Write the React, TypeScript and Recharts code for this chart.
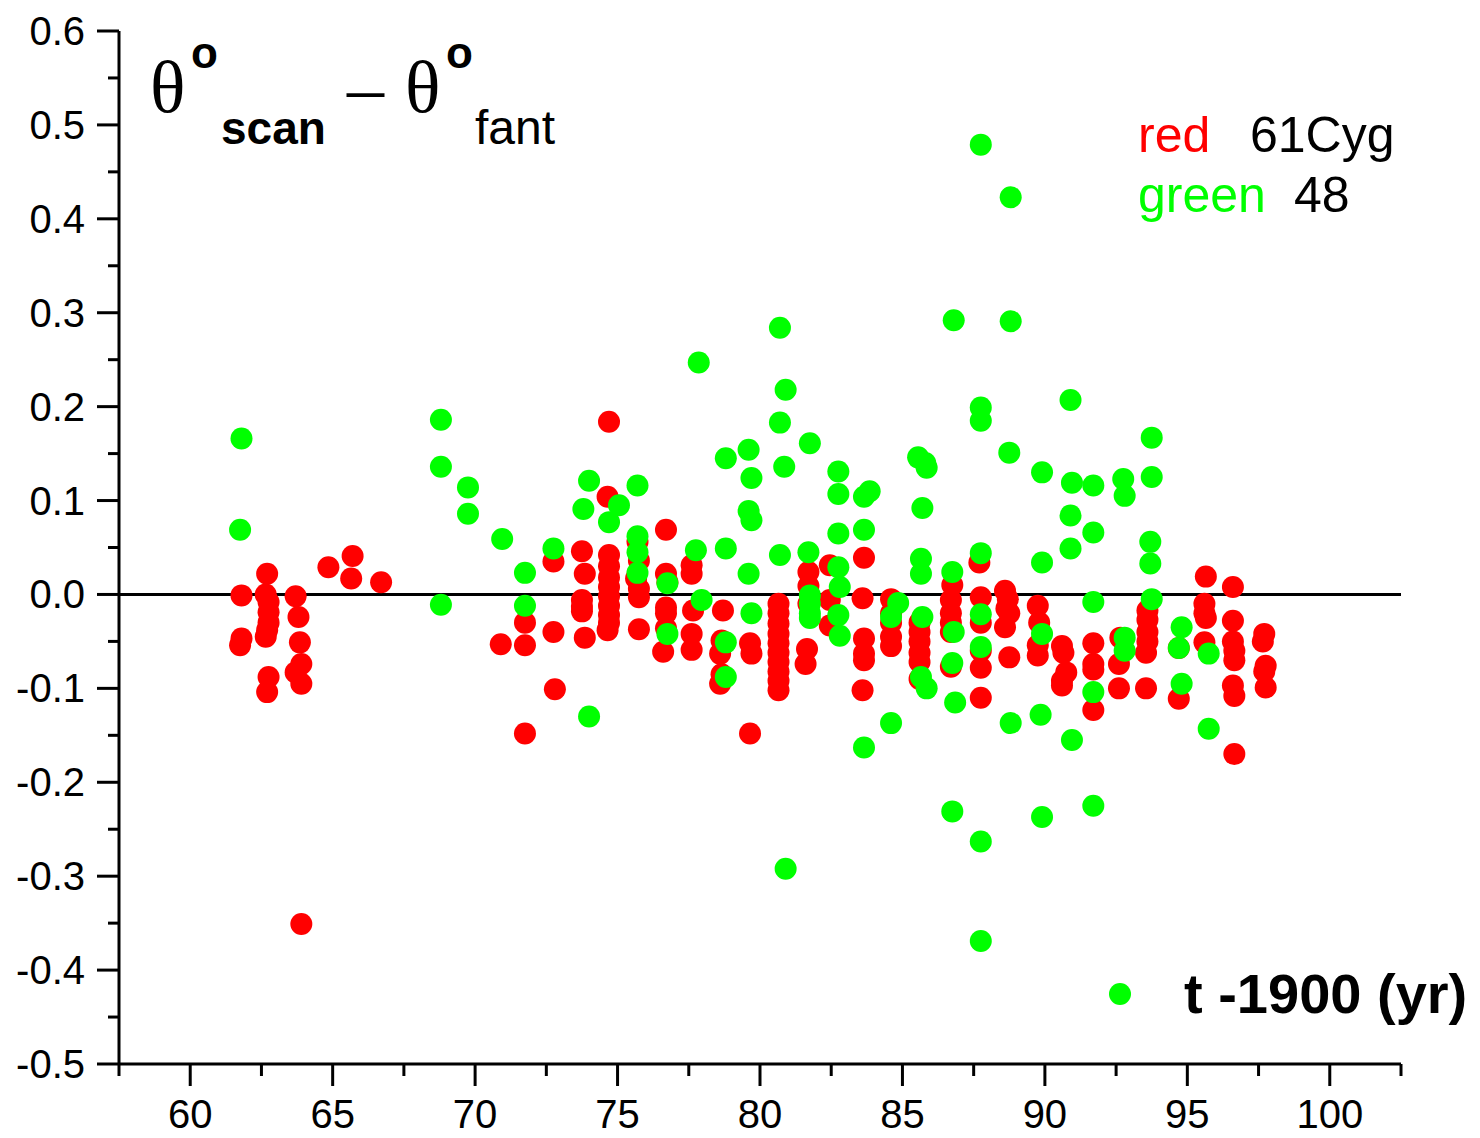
import React from "react";
import { ScatterChart, Scatter, XAxis, YAxis, ReferenceLine } from "recharts";

// [t - 1900, theta_scan - theta_fant] for 61 Cyg (red)
const red61Cyg: [number, number][] = [
  [61.8, -0.001], [61.8, -0.047], [61.75, -0.054],
  [62.7, 0.022], [62.65, 0.0], [62.75, -0.008], [62.75, -0.019], [62.75, -0.03], [62.7, -0.038], [62.65, -0.045], [62.75, -0.088], [62.7, -0.104],
  [63.7, -0.002], [63.8, -0.024], [63.85, -0.051], [63.9, -0.074], [63.7, -0.083], [63.9, -0.095], [63.9, -0.351],
  [64.85, 0.029], [65.7, 0.041], [65.65, 0.017], [66.7, 0.013],
  [70.9, -0.053], [71.75, -0.03], [71.75, -0.054], [71.75, -0.148],
  [72.75, 0.035], [72.75, -0.04], [72.8, -0.101],
  [73.75, 0.046], [73.85, 0.022], [73.75, -0.006], [73.75, -0.013], [73.75, -0.018], [73.85, -0.046],
  [74.7, 0.184], [74.65, 0.104], [74.7, 0.042], [74.7, 0.03], [74.7, 0.018], [74.7, 0.008], [74.7, -0.002], [74.7, -0.012], [74.7, -0.022], [74.7, -0.03], [74.65, -0.038],
  [75.7, 0.056], [75.75, 0.036], [75.65, 0.017], [75.75, 0.006], [75.75, -0.003], [75.75, -0.037],
  [76.7, 0.069], [76.7, 0.022], [76.75, 0.013], [76.7, -0.014], [76.7, -0.02], [76.7, -0.036], [76.6, -0.061],
  [77.6, 0.031], [77.6, 0.022], [77.65, -0.017], [77.6, -0.042], [77.6, -0.059],
  [78.7, -0.017], [78.65, -0.049], [78.6, -0.063], [78.65, -0.085], [78.6, -0.095],
  [79.65, -0.052], [79.7, -0.063], [79.65, -0.148],
  [80.65, -0.01], [80.65, -0.02], [80.65, -0.031], [80.65, -0.042], [80.65, -0.052], [80.65, -0.062], [80.65, -0.072], [80.65, -0.082], [80.65, -0.092], [80.65, -0.102],
  [81.7, 0.024], [81.7, 0.009], [81.7, -0.01], [81.65, -0.058], [81.6, -0.074],
  [82.45, 0.031], [82.45, -0.006], [82.45, -0.033],
  [83.65, 0.039], [83.6, -0.004], [83.65, -0.047], [83.65, -0.063], [83.65, -0.07], [83.6, -0.102],
  [84.6, -0.005], [84.6, -0.02], [84.6, -0.03], [84.6, -0.045], [84.6, -0.055],
  [85.6, -0.03], [85.6, -0.04], [85.6, -0.05], [85.6, -0.062], [85.6, -0.072], [85.6, -0.09],
  [86.75, 0.01], [86.7, -0.006], [86.7, -0.02], [86.7, -0.03], [86.7, -0.04], [86.7, -0.077],
  [87.7, 0.034], [87.75, -0.003], [87.75, -0.03], [87.75, -0.06], [87.75, -0.078], [87.75, -0.11],
  [88.6, 0.004], [88.7, -0.005], [88.65, -0.015], [88.75, -0.02], [88.6, -0.035], [88.75, -0.067],
  [89.75, -0.012], [89.8, -0.03], [89.75, -0.054], [89.75, -0.065],
  [90.6, -0.055], [90.65, -0.062], [90.75, -0.083], [90.6, -0.092], [90.6, -0.097],
  [91.7, -0.052], [91.7, -0.074], [91.7, -0.08], [91.7, -0.123],
  [92.65, -0.046], [92.6, -0.074], [92.6, -0.1],
  [93.6, -0.017], [93.6, -0.027], [93.6, -0.04], [93.6, -0.05], [93.55, -0.062], [93.55, -0.1],
  [94.7, -0.057], [94.7, -0.111],
  [95.65, 0.019], [95.6, -0.01], [95.6, -0.02], [95.65, -0.025], [95.6, -0.051],
  [96.6, 0.008], [96.6, -0.028], [96.6, -0.05], [96.65, -0.06], [96.65, -0.07], [96.6, -0.097], [96.65, -0.108], [96.65, -0.17],
  [97.7, -0.042], [97.65, -0.05], [97.75, -0.076], [97.7, -0.082], [97.75, -0.099],
];

// same for star 48 (green)
const green48: [number, number][] = [
  [61.8, 0.166], [61.75, 0.069],
  [68.8, 0.186], [68.8, 0.136], [68.8, -0.011],
  [69.75, 0.114], [69.75, 0.086],
  [70.95, 0.059],
  [71.75, 0.023], [71.75, -0.012],
  [72.75, 0.049],
  [73.8, 0.091],
  [74.0, 0.121], [74.0, -0.13],
  [74.7, 0.077], [75.05, 0.095],
  [75.7, 0.116], [75.7, 0.062], [75.7, 0.045], [75.7, 0.023],
  [76.75, 0.012], [76.75, -0.042],
  [77.85, 0.247], [77.75, 0.047], [77.95, -0.006],
  [78.8, 0.145], [78.8, 0.049], [78.8, -0.051], [78.8, -0.088],
  [79.6, 0.154], [79.7, 0.124], [79.6, 0.089], [79.7, 0.079], [79.6, 0.022], [79.7, -0.02],
  [80.7, 0.284], [80.7, 0.183], [80.7, 0.042],
  [80.9, 0.218], [80.85, 0.136], [80.9, -0.292],
  [81.75, 0.161], [81.7, 0.045], [81.75, -0.001], [81.75, -0.01], [81.75, -0.02], [81.75, -0.025],
  [82.75, 0.131], [82.75, 0.107], [82.75, 0.065], [82.75, 0.029], [82.8, 0.008], [82.75, -0.022], [82.8, -0.044],
  [83.65, 0.104], [83.85, 0.11], [83.65, 0.069], [83.65, -0.163],
  [84.85, -0.009], [84.6, -0.024], [84.6, -0.137],
  [85.55, 0.146], [85.85, 0.135], [85.8, 0.14], [85.7, 0.092], [85.65, 0.038], [85.65, 0.022], [85.7, -0.024], [85.65, -0.088], [85.85, -0.1],
  [86.8, 0.292], [86.75, 0.024], [86.8, -0.04], [86.75, -0.073], [86.85, -0.115], [86.75, -0.231],
  [87.75, 0.479], [87.75, 0.199], [87.75, 0.185], [87.75, 0.044], [87.75, -0.021], [87.75, -0.056], [87.75, -0.263], [87.75, -0.369],
  [88.8, 0.423], [88.8, 0.291], [88.75, 0.151], [88.8, -0.137],
  [89.9, 0.13], [89.9, 0.034], [89.9, -0.042], [89.85, -0.128], [89.9, -0.237],
  [90.9, 0.207], [90.95, 0.119], [90.9, 0.084], [90.9, 0.049], [90.95, -0.155],
  [91.7, 0.116], [91.7, 0.066], [91.7, -0.008], [91.7, -0.104], [91.7, -0.225],
  [92.75, 0.123], [92.8, 0.105], [92.8, -0.046], [92.8, -0.06],
  [93.75, 0.167], [93.75, 0.125], [93.7, 0.056], [93.7, 0.033], [93.75, -0.005],
  [94.8, -0.035], [94.7, -0.057], [94.8, -0.095],
  [95.75, -0.063], [95.75, -0.143],
];

const xTicks = [57.5, 60, 62.5, 65, 67.5, 70, 72.5, 75, 77.5, 80, 82.5, 85, 87.5, 90, 92.5, 95, 97.5, 100, 102.5];
const xLabels = [60, 65, 70, 75, 80, 85, 90, 95, 100];
const yTicks = [-0.5, -0.45, -0.4, -0.35, -0.3, -0.25, -0.2, -0.15, -0.1, -0.05, 0, 0.05, 0.1, 0.15, 0.2, 0.25, 0.3, 0.35, 0.4, 0.45, 0.5, 0.55, 0.6];
const yLabels = [-0.5, -0.4, -0.3, -0.2, -0.1, 0, 0.1, 0.2, 0.3, 0.4, 0.5, 0.6];

const RED = "#ff0000";
const GREEN = "#00ff00";
const SANS = "'Liberation Sans', Arial, sans-serif";
const SERIF = "'Liberation Serif', 'Times New Roman', serif";

const toPoints = (arr: [number, number][]) => arr.map(([x, y]) => ({ x, y }));

const isLabelled = (list: number[], v: number) => list.some((l) => Math.abs(l - v) < 1e-6);

const XTick = (props: any) => {
  const { x, y, payload } = props;
  const major = isLabelled(xLabels, payload.value);
  return (
    <g>
      <line x1={x} x2={x} y1={y} y2={y + (major ? 22 : 12)} stroke="#000" strokeWidth={3} />
      {major && (
        <text x={x} y={y + 64} textAnchor="middle" fontSize={40} fontFamily={SANS} fill="#000">
          {payload.value}
        </text>
      )}
    </g>
  );
};

const YTick = (props: any) => {
  const { x, y, payload } = props;
  const major = isLabelled(yLabels, payload.value);
  return (
    <g>
      <line x1={x - (major ? 22 : 11)} x2={x} y1={y} y2={y} stroke="#000" strokeWidth={3} />
      {major && (
        <text x={x - 34} y={y + 14} textAnchor="end" fontSize={40} fontFamily={SANS} fill="#000">
          {payload.value.toFixed(1)}
        </text>
      )}
    </g>
  );
};

const dot = (color: string) => (p: any) => <circle cx={p.cx} cy={p.cy} r={11} fill={color} />;

export default function App() {
  return (
    <div style={{ position: "absolute", left: 0, top: 0, width: 1480, height: 1138, background: "#fff" }}>
      <ScatterChart width={1480} height={1138} margin={{ top: 31, right: 79, left: 0, bottom: 0 }}>
        <XAxis
          type="number"
          dataKey="x"
          domain={[57.5, 102.5]}
          ticks={xTicks}
          interval={0}
          tickSize={0}
          tickMargin={0}
          tick={<XTick />}
          height={74}
          axisLine={{ stroke: "#000", strokeWidth: 3 }}
          tickLine={false}
          allowDataOverflow
        />
        <YAxis
          type="number"
          dataKey="y"
          domain={[-0.5, 0.6]}
          ticks={yTicks}
          interval={0}
          tickSize={0}
          tickMargin={0}
          tick={<YTick />}
          width={119}
          axisLine={{ stroke: "#000", strokeWidth: 3 }}
          tickLine={false}
          allowDataOverflow
        />
        <ReferenceLine y={0} stroke="#000" strokeWidth={3} />
        <Scatter data={toPoints(red61Cyg)} fill={RED} shape={dot(RED)} isAnimationActive={false} />
        <Scatter data={toPoints(green48)} fill={GREEN} shape={dot(GREEN)} isAnimationActive={false} />
      </ScatterChart>

      <svg width={1480} height={1138} style={{ position: "absolute", left: 0, top: 0, pointerEvents: "none" }}>
        {/* title */}
        <text x={150} y={112} fontSize={74} fontFamily={SERIF}>θ</text>
        <text x={191} y={68} fontSize={44} fontWeight="bold" fontFamily={SANS}>o</text>
        <text x={221} y={144} fontSize={46} fontWeight="bold" fontFamily={SANS}>scan</text>
        <text x={347} y={112} fontSize={74} fontFamily={SERIF}>–</text>
        <text x={405} y={112} fontSize={74} fontFamily={SERIF}>θ</text>
        <text x={446} y={68} fontSize={44} fontWeight="bold" fontFamily={SANS}>o</text>
        <text x={475} y={144} fontSize={48} fontFamily={SANS}>fant</text>

        {/* legend */}
        <text x={1138} y={152} fontSize={50} fontFamily={SANS} fill={RED}>red</text>
        <text x={1250} y={152} fontSize={50} fontFamily={SANS}>61Cyg</text>
        <text x={1138} y={212} fontSize={50} fontFamily={SANS} fill={GREEN}>green</text>
        <text x={1294} y={212} fontSize={50} fontFamily={SANS}>48</text>

        {/* x axis title */}
        <circle cx={1120} cy={994} r={11} fill={GREEN} />
        <text x={1184} y={1013} fontSize={56} fontWeight="bold" fontFamily={SANS}>t -1900 (yr)</text>
      </svg>
    </div>
  );
}
